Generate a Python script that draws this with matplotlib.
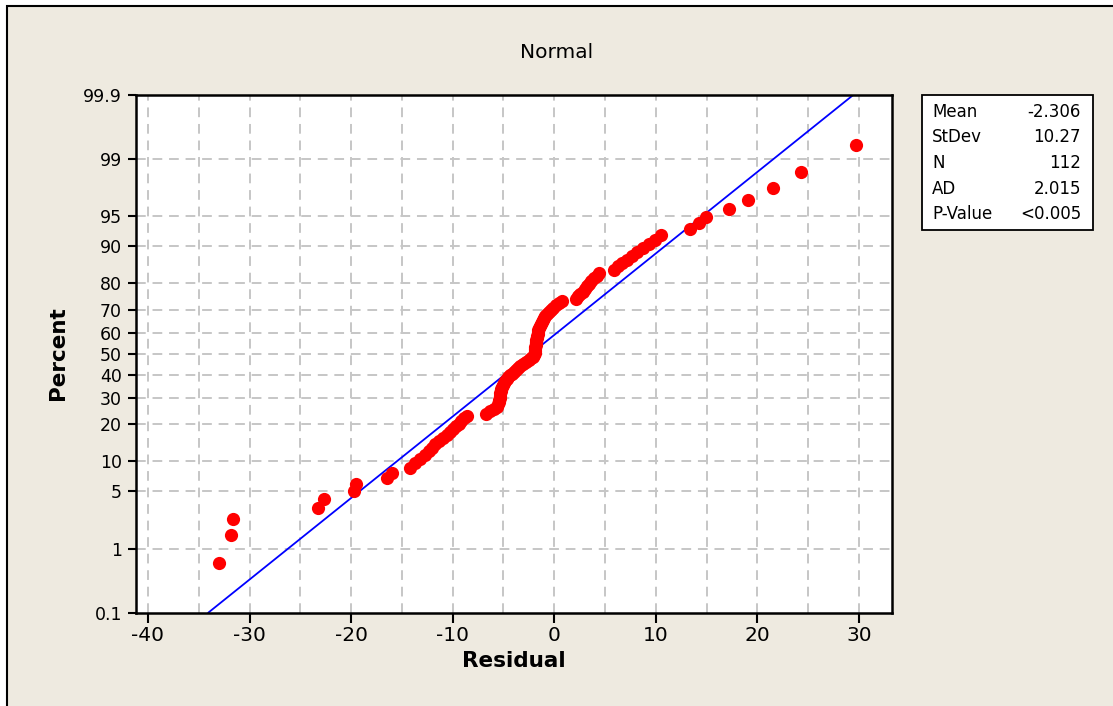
import matplotlib
matplotlib.use('Agg')
import matplotlib.pyplot as plt
from matplotlib.patches import Rectangle
from statistics import NormalDist
import numpy as np

# residuals, sorted ascending
residuals = [
    -33.0, -31.8, -31.6, -23.3, -22.7, -19.7, -19.5, -16.5, -16.0, -14.2,
    -13.7, -13.2, -12.7, -12.3, -12.0, -11.7, -11.35, -10.95, -10.55, -10.25,
    -9.95, -9.65, -9.4, -9.2, -8.9, -8.6, -6.7, -6.3, -5.95, -5.65,
    -5.55, -5.45, -5.4, -5.35, -5.35, -5.3, -5.25, -5.25, -5.15, -5.05,
    -4.95, -4.85, -4.65, -4.55, -4.35, -4.15, -3.95, -3.75, -3.55, -3.4,
    -3.1, -2.8, -2.5, -2.3, -2.1, -2.0, -1.9, -1.9, -1.9, -1.85,
    -1.8, -1.8, -1.8, -1.75, -1.7, -1.7, -1.65, -1.6, -1.6, -1.5,
    -1.4, -1.3, -1.2, -1.1, -1.0, -0.9, -0.7, -0.5, -0.3, -0.1,
    0.15, 0.45, 0.75, 2.15, 2.35, 2.55, 2.85, 3.05, 3.2, 3.4,
    3.6, 3.9, 4.2, 4.4, 5.9, 6.3, 6.65, 7.15, 7.65, 8.15,
    8.75, 9.3, 9.9, 10.5, 13.35, 14.25, 14.9, 17.2, 19.1, 21.55,
    24.25, 29.75,
]

fit_mean = -2.306
fit_sd = 10.27
stat_labels = ['Mean', 'StDev', 'N', 'AD', 'P-Value']
stat_values = ['-2.306', '10.27', '112', '2.015', '<0.005']

pct_ticks = [0.1, 1, 5, 10, 20, 30, 40, 50, 60, 70, 80, 90, 95, 99, 99.9]
pct_grid = [1, 5, 10, 20, 30, 40, 50, 60, 70, 80, 90, 95, 99]
x_ticks = [-40, -30, -20, -10, 0, 10, 20, 30]
x_grid = list(range(-40, 35, 5))

nd = NormalDist()
W, H = 1113, 706
beige = '#EEEAE0'
grid_col = '#C6C6C6'

n = len(residuals)
# Benard median ranks
z_pts = [nd.inv_cdf((i - 0.3) / (n + 0.4)) for i in range(1, n + 1)]
z_lo = nd.inv_cdf(0.001)
z_hi = nd.inv_cdf(0.999)

fig = plt.figure(figsize=(W / 100, H / 100), dpi=100, facecolor='white')
fig.patches.append(Rectangle((7 / W, -0.1), 1.2, 1.1 - 6 / H, transform=fig.transFigure,
                             facecolor=beige, edgecolor='black', lw=1.5, zorder=-10))

ax = fig.add_axes([136 / W, 1 - 612.5 / H, 756 / W, 517.5 / H])
ax.set_facecolor('white')

for g in x_grid:
    ax.axvline(g, color=grid_col, lw=1.4, ls=(0, (5, 3.5)), zorder=1)
for p in pct_grid:
    ax.axhline(nd.inv_cdf(p / 100), color=grid_col, lw=1.4, ls=(0, (5, 3.5)), zorder=1)

zl = np.array([z_lo, z_hi])
ax.plot(fit_mean + fit_sd * zl, zl, color='#0000FF', lw=1.3, zorder=2)
ax.plot(residuals, z_pts, 'o', color='#FF0000', ms=9.5, mec='none', zorder=3)

ax.set_xlim(-41.18, 33.25)
ax.set_ylim(z_lo, z_hi)
ax.set_xticks(x_ticks)
ax.set_xticklabels([str(t) for t in x_ticks])
ax.set_yticks([nd.inv_cdf(p / 100) for p in pct_ticks])
ax.set_yticklabels([f'{p:g}' for p in pct_ticks])
ax.tick_params(axis='x', direction='out', length=7, width=1.5, labelsize=14.5, pad=3)
ax.tick_params(axis='y', direction='out', length=6, width=1.5, labelsize=12.5, pad=4)
for s in ax.spines.values():
    s.set_linewidth(1.8)

ax.set_xlabel('Residual', fontsize=15.5, fontweight='bold', labelpad=4)
fig.text(58 / W, 1 - 353 / H, 'Percent', rotation=90, fontsize=15.5, fontweight='bold',
         ha='center', va='center')
fig.text(0.5, 1 - 52 / H, 'Normal', fontsize=14.5, ha='center', va='center')

# stats box
fig.patches.append(Rectangle((922 / W, 1 - 230 / H), 171 / W, 135 / H, transform=fig.transFigure,
                             facecolor='white', edgecolor='black', lw=1.3, zorder=1))
for k, (lab, val) in enumerate(zip(stat_labels, stat_values)):
    yy = 1 - (112 + k * 25.5) / H
    fig.text(932 / W, yy, lab, fontsize=12, ha='left', va='center')
    fig.text(1081 / W, yy, val, fontsize=12, ha='right', va='center')

fig.savefig('out.png', dpi=100, facecolor=fig.get_facecolor())
